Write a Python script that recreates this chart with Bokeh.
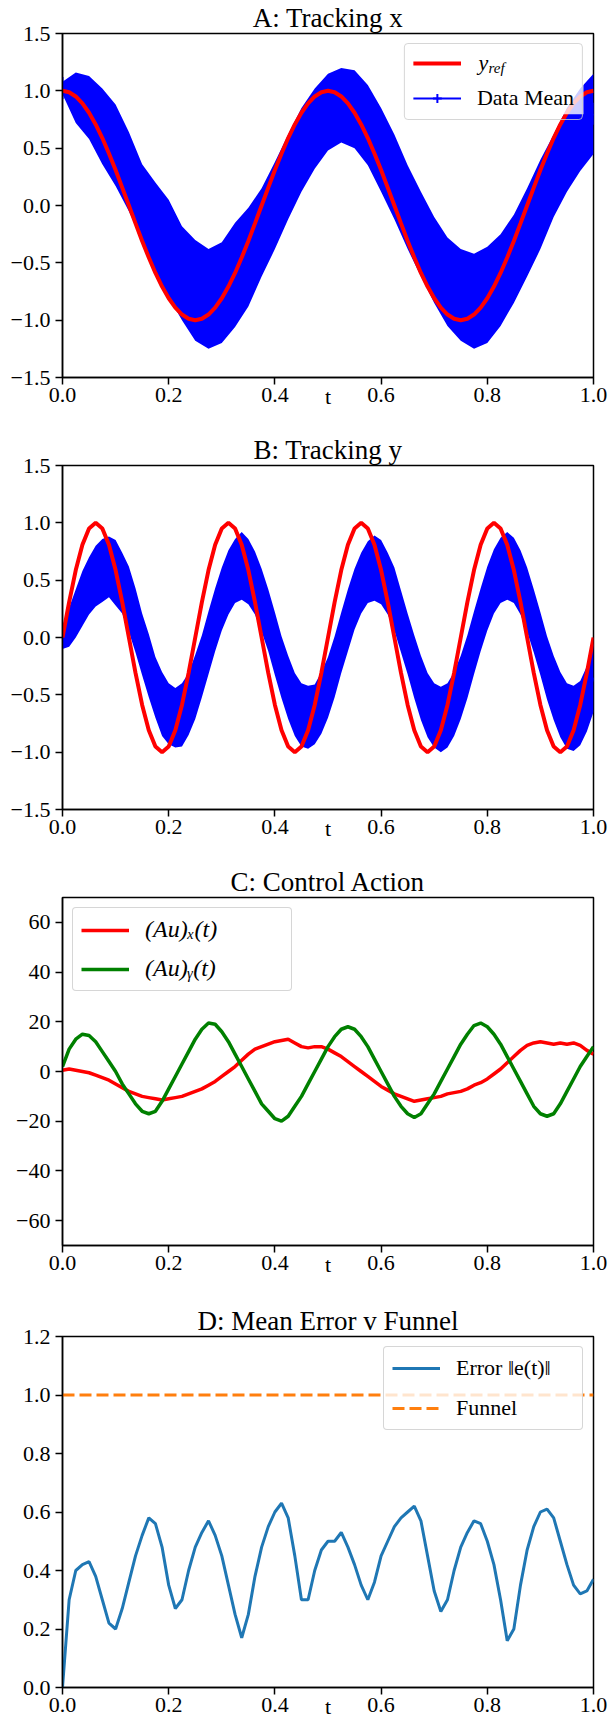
from bokeh.plotting import figure
from bokeh.layouts import column
from bokeh.models import Range1d, FixedTicker, Legend, LegendItem, Label, BoxAnnotation
from bokeh.embed import file_html
from bokeh.resources import INLINE

# ---------------- data ----------------
T41 = [0.0, 0.025, 0.05, 0.075, 0.1, 0.125, 0.15, 0.175, 0.2, 0.225, 0.25, 0.275, 0.3, 0.325,
       0.35, 0.375, 0.4, 0.425, 0.45, 0.475, 0.5, 0.525, 0.55, 0.575, 0.6, 0.625, 0.65, 0.675,
       0.7, 0.725, 0.75, 0.775, 0.8, 0.825, 0.85, 0.875, 0.9, 0.925, 0.95, 0.975, 1.0]
T81 = [0.0, 0.0125, 0.025, 0.0375, 0.05, 0.0625, 0.075, 0.0875, 0.1, 0.1125, 0.125, 0.1375,
       0.15, 0.1625, 0.175, 0.1875, 0.2, 0.2125, 0.225, 0.2375, 0.25, 0.2625, 0.275, 0.2875,
       0.3, 0.3125, 0.325, 0.3375, 0.35, 0.3625, 0.375, 0.3875, 0.4, 0.4125, 0.425, 0.4375,
       0.45, 0.4625, 0.475, 0.4875, 0.5, 0.5125, 0.525, 0.5375, 0.55, 0.5625, 0.575, 0.5875,
       0.6, 0.6125, 0.625, 0.6375, 0.65, 0.6625, 0.675, 0.6875, 0.7, 0.7125, 0.725, 0.7375,
       0.75, 0.7625, 0.775, 0.7875, 0.8, 0.8125, 0.825, 0.8375, 0.85, 0.8625, 0.875, 0.8875,
       0.9, 0.9125, 0.925, 0.9375, 0.95, 0.9625, 0.975, 0.9875, 1.0]

# Panel A: reference and data band (mean +- spread)
A_REF = [1.0, 0.988, 0.951, 0.891, 0.809, 0.707, 0.588, 0.454, 0.309, 0.156, 0.0, -0.156, -0.309,
         -0.454, -0.588, -0.707, -0.809, -0.891, -0.951, -0.988, -1.0, -0.988, -0.951, -0.891,
         -0.809, -0.707, -0.588, -0.454, -0.309, -0.156, 0.0, 0.156, 0.309, 0.454, 0.588, 0.707,
         0.809, 0.891, 0.951, 0.988, 1.0,
         0.988, 0.951, 0.891, 0.809, 0.707, 0.588, 0.454, 0.309, 0.156, 0.0, -0.156, -0.309,
         -0.454, -0.588, -0.707, -0.809, -0.891, -0.951, -0.988, -1.0, -0.988, -0.951, -0.891,
         -0.809, -0.707, -0.588, -0.454, -0.309, -0.156, 0.0, 0.156, 0.309, 0.454, 0.588, 0.707,
         0.809, 0.891, 0.951, 0.988, 1.0]
A_LO = [0.97, 0.72, 0.58, 0.36, 0.17, -0.05, -0.30, -0.58, -0.80, -1.00, -1.18, -1.25, -1.20,
        -1.06, -0.88, -0.62, -0.38, -0.12, 0.12, 0.32, 0.48, 0.55, 0.50, 0.35, 0.12, -0.12,
        -0.38, -0.62, -0.85, -1.05, -1.18, -1.25, -1.20, -1.05, -0.85, -0.62, -0.38, -0.10,
        0.12, 0.30, 0.45]
A_HI = [1.08, 1.16, 1.13, 1.02, 0.88, 0.64, 0.36, 0.20, 0.05, -0.18, -0.30, -0.38, -0.32,
        -0.15, -0.02, 0.15, 0.38, 0.62, 0.85, 1.02, 1.15, 1.20, 1.18, 1.05, 0.85, 0.62, 0.35,
        0.12, -0.10, -0.28, -0.38, -0.42, -0.36, -0.25, -0.08, 0.15, 0.40, 0.62, 0.85, 1.02, 1.15]

# Panel B
B_REF = [0.0, 0.309, 0.588, 0.809, 0.951, 1.0, 0.951, 0.809, 0.588, 0.309,
         0.0, -0.309, -0.588, -0.809, -0.951, -1.0, -0.951, -0.809, -0.588, -0.309,
         0.0, 0.309, 0.588, 0.809, 0.951, 1.0, 0.951, 0.809, 0.588, 0.309,
         0.0, -0.309, -0.588, -0.809, -0.951, -1.0, -0.951, -0.809, -0.588, -0.309,
         0.0, 0.309, 0.588, 0.809, 0.951, 1.0, 0.951, 0.809, 0.588, 0.309,
         0.0, -0.309, -0.588, -0.809, -0.951, -1.0, -0.951, -0.809, -0.588, -0.309,
         0.0, 0.309, 0.588, 0.809, 0.951, 1.0, 0.951, 0.809, 0.588, 0.309,
         0.0, -0.309, -0.588, -0.809, -0.951, -1.0, -0.951, -0.809, -0.588, -0.309,
         0.0]
B_LO = [-0.10, -0.08, 0.00, 0.10, 0.20, 0.27, 0.31, 0.35, 0.28, 0.21,
        0.05, -0.13, -0.33, -0.52, -0.70, -0.86, -0.93, -0.96, -0.95, -0.85,
        -0.71, -0.52, -0.32, -0.12, 0.06, 0.20, 0.30, 0.33, 0.29, 0.20,
        0.05, -0.12, -0.33, -0.53, -0.71, -0.86, -0.95, -0.97, -0.93, -0.84,
        -0.70, -0.52, -0.31, -0.12, 0.07, 0.21, 0.30, 0.32, 0.29, 0.20,
        0.06, -0.13, -0.32, -0.53, -0.72, -0.87, -0.96, -1.00, -0.96, -0.86,
        -0.71, -0.53, -0.32, -0.12, 0.06, 0.21, 0.30, 0.33, 0.30, 0.20,
        0.05, -0.13, -0.33, -0.54, -0.72, -0.87, -0.97, -0.99, -0.94, -0.82,
        -0.65]
B_HI = [0.10, 0.26, 0.42, 0.58, 0.70, 0.80, 0.86, 0.88, 0.85, 0.74,
        0.62, 0.43, 0.21, 0.03, -0.17, -0.30, -0.40, -0.44, -0.40, -0.31,
        -0.15, 0.02, 0.23, 0.43, 0.61, 0.76, 0.86, 0.92, 0.86, 0.75,
        0.60, 0.42, 0.22, 0.01, -0.16, -0.31, -0.40, -0.42, -0.41, -0.30,
        -0.17, 0.01, 0.22, 0.42, 0.60, 0.74, 0.84, 0.89, 0.85, 0.74,
        0.61, 0.41, 0.21, 0.02, -0.16, -0.31, -0.40, -0.43, -0.40, -0.30,
        -0.16, 0.02, 0.23, 0.43, 0.62, 0.77, 0.87, 0.92, 0.87, 0.76,
        0.61, 0.42, 0.22, 0.01, -0.16, -0.30, -0.40, -0.42, -0.38, -0.25,
        -0.05]

# Panel C
C_X = [0.5, 1, 0.5, 0, -0.5, -1.5, -2.5, -3.5, -5, -6.5,
       -8, -9, -10, -10.5, -11, -11.5, -11, -10.5, -10, -9,
       -8, -7, -5.5, -4, -2, 0, 2, 4.5, 7, 9,
       10, 11, 12, 12.5, 13, 11.5, 10, 9.5, 10, 10,
       9, 7.5, 6, 4, 2, 0, -2, -4, -6, -7.5,
       -9, -10, -11, -12, -11.5, -11, -10.5, -10, -9, -8.5,
       -8, -7, -5.5, -4.5, -3, -1, 1, 3.5, 6, 8.5,
       10.5, 11.5, 12, 11.5, 11, 11.5, 11, 11.5, 10.5, 8.5,
       7]
C_Y = [2, 9, 13, 15, 14.5, 12, 8, 4, 0, -5,
       -9, -13, -16, -17, -16, -12, -7, -2, 3, 8,
       13, 17, 19.5, 19, 16, 12, 7, 2, -3, -8,
       -13, -16, -19, -20, -18, -14, -10, -5, 0, 5,
       10, 14, 17, 18, 17, 14, 10, 5, 0, -5,
       -10, -14, -17, -18.5, -17, -13, -9, -4, 1, 6,
       11, 15, 18.5, 19.5, 18, 15, 11, 6, 1, -4,
       -9, -14, -17, -18, -17, -13, -8, -3, 2, 6,
       10]

# Panel D
D_ERR = [0.0, 0.3, 0.4, 0.42, 0.43, 0.38, 0.3, 0.22, 0.2, 0.27,
         0.36, 0.45, 0.52, 0.58, 0.56, 0.48, 0.35, 0.27, 0.3, 0.4,
         0.48, 0.53, 0.57, 0.52, 0.45, 0.35, 0.25, 0.17, 0.25, 0.38,
         0.48, 0.55, 0.6, 0.63, 0.58, 0.45, 0.3, 0.3, 0.4, 0.47,
         0.5, 0.5, 0.53, 0.48, 0.42, 0.35, 0.3, 0.36, 0.45, 0.5,
         0.55, 0.58, 0.6, 0.62, 0.57, 0.45, 0.33, 0.26, 0.3, 0.4,
         0.48, 0.53, 0.57, 0.56, 0.5, 0.42, 0.3, 0.16, 0.2, 0.35,
         0.47, 0.55, 0.6, 0.61, 0.58, 0.5, 0.42, 0.35, 0.32, 0.33,
         0.37]
D_FUNNEL_T = [0.0, 1.0]
D_FUNNEL = [1.0, 1.0]

X_TICKS = [0.0, 0.2, 0.4, 0.6, 0.8, 1.0]
X_LABELS = ["0.0", "0.2", "0.4", "0.6", "0.8", "1.0"]
AB_TICKS = [-1.5, -1.0, -0.5, 0.0, 0.5, 1.0, 1.5]
AB_LABELS = ["\u22121.5", "\u22121.0", "\u22120.5", "0.0", "0.5", "1.0", "1.5"]
C_TICKS = [-60, -40, -20, 0, 20, 40, 60]
C_LABELS = ["\u221260", "\u221240", "\u221220", "0", "20", "40", "60"]
D_TICKS = [0.0, 0.2, 0.4, 0.6, 0.8, 1.0, 1.2]
D_LABELS = ["0.0", "0.2", "0.4", "0.6", "0.8", "1.0", "1.2"]

TITLES = ["A: Tracking x", "B: Tracking y", "C: Control Action", "D: Mean Error v Funnel"]

# ---------------- style / layout ----------------
FONT = "Liberation Serif"
FIG_W = 610
RIGHT = 17
TICK_FS = "22px"


def make_panel(h, left, top, bottom, yr, yticks, ylabels, title):
    p = figure(width=FIG_W, height=h, x_range=Range1d(0, 1), y_range=Range1d(*yr),
               output_backend="svg", toolbar_location=None, title=title,
               min_border_left=left, min_border_right=RIGHT,
               min_border_top=top, min_border_bottom=bottom)
    p.title.text_font = FONT
    p.title.text_font_size = "27px"
    p.title.text_font_style = "normal"
    p.title.text_color = "black"
    p.title.align = "center"
    p.title.standoff = 1
    p.xgrid.visible = False
    p.ygrid.visible = False
    p.outline_line_color = "black"
    p.outline_line_width = 1.5
    p.outline_line_alpha = 1.0
    p.border_fill_color = "white"
    for ax, ticks, labels in ((p.xaxis[0], X_TICKS, X_LABELS), (p.yaxis[0], yticks, ylabels)):
        ax.ticker = FixedTicker(ticks=ticks)
        ax.major_label_overrides = dict(zip(ticks, labels))
        ax.axis_line_color = "black"
        ax.axis_line_width = 1.5
        ax.major_tick_line_color = "black"
        ax.major_tick_line_width = 1.5
        ax.major_tick_in = 0
        ax.major_tick_out = 7
        ax.minor_tick_line_color = None
        ax.major_label_text_font = FONT
        ax.major_label_text_font_size = TICK_FS
        ax.major_label_text_color = "black"
    xa = p.xaxis[0]
    xa.major_label_standoff = 3
    xa.axis_label = "t"
    xa.axis_label_text_font = FONT
    xa.axis_label_text_font_size = TICK_FS
    xa.axis_label_text_font_style = "normal"
    xa.axis_label_text_color = "black"
    xa.axis_label_standoff = -21
    p.yaxis[0].major_label_standoff = 5
    return p, h - top - bottom


def make_legend(items, location, italic=False, bg_alpha=0.8, font_px=22, label_w=20,
                spacing=11):
    lg = Legend(items=items, location=location, margin=10, padding=8, spacing=spacing,
                glyph_width=48, glyph_height=22, label_height=font_px, label_standoff=16,
                label_width=label_w,
                label_text_font=FONT, label_text_font_size="%dpx" % font_px,
                label_text_color="black",
                label_text_font_style="italic" if italic else "normal",
                border_line_color="#cccccc", border_line_alpha=0.8, border_line_width=1,
                background_fill_color="white", background_fill_alpha=bg_alpha)
    if "border_radius" in Legend.properties():
        lg.border_radius = 4
    return lg


# ---- Panel A
A_LEFT, A_TOP = 62, 32
pA, fhA = make_panel(430, A_LEFT, A_TOP, 53, (-1.5, 1.5), AB_TICKS, AB_LABELS, TITLES[0])
A_MEAN = [(lo + hi) / 2 for lo, hi in zip(A_LO, A_HI)]
crossA = pA.scatter(T41, A_MEAN, marker="cross", size=22, line_color="blue", line_width=2)
pA.varea(x=T41, y1=A_LO, y2=A_HI, fill_color="blue", fill_alpha=1.0)
meanA = pA.line(T41, A_MEAN, line_color="blue", line_width=2)
refA = pA.line(T81, A_REF, line_color="red", line_width=4)

frA_w = FIG_W - A_LEFT - RIGHT
LEG_W, LEG_H = 16 + 48 + 16 + 97, 8 + 22 + 11 + 22 + 8
box_r = A_LEFT + frA_w - 10
box_l = box_r - LEG_W
box_t = A_TOP + 10
txt_x = box_l + 8 + 48 + 16
row1 = box_t + 8 + 11


def ax_(px):
    return (px - A_LEFT) / frA_w


def ay_(py):
    return 1.5 - (py - A_TOP) * 3.0 / fhA


# semi-transparent legend backdrop (drawn over the data, under the legend texts)
pA.add_layout(BoxAnnotation(left=ax_(box_l), right=ax_(box_r), top=ay_(box_t),
                            bottom=ay_(box_t + LEG_H), fill_color="white", fill_alpha=0.8,
                            line_color=None, level="glyph"))
pA.add_layout(make_legend([LegendItem(label=" ", renderers=[refA]),
                           LegendItem(label="Data Mean", renderers=[meanA, crossA])],
                          "top_right", bg_alpha=0.0))
pA.add_layout(Label(x=ax_(txt_x), y=ay_(row1), text="y", text_font=FONT, text_font_size="22px",
                    text_font_style="italic", text_baseline="middle", text_color="black",
                    level="overlay"))
pA.add_layout(Label(x=ax_(txt_x + 10), y=ay_(row1 + 6), text="ref", text_font=FONT,
                    text_font_size="15px", text_font_style="italic", text_baseline="middle",
                    text_color="black", level="overlay"))

# ---- Panel B
pB, fhB = make_panel(432, 62, 35, 53, (-1.5, 1.5), AB_TICKS, AB_LABELS, TITLES[1])
pB.varea(x=T81, y1=B_LO, y2=B_HI, fill_color="blue", fill_alpha=1.0)
pB.line(T81, [(lo + hi) / 2 for lo, hi in zip(B_LO, B_HI)], line_color="blue", line_width=2)
pB.line(T81, B_REF, line_color="red", line_width=4)

# ---- Panel C
pC, fhC = make_panel(428, 57, 35, 45, (-70, 70), C_TICKS, C_LABELS, TITLES[2])
cx = pC.line(T81, C_X, line_color="red", line_width=3.5)
cy = pC.line(T81, C_Y, line_color="green", line_width=3.5)
pC.add_layout(make_legend([LegendItem(label="(Au)\u2093(t)", renderers=[cx]),
                           LegendItem(label="(Au)\u1d67(t)", renderers=[cy])],
                          "top_left", italic=True, font_px=24, label_w=138, spacing=12))

# ---- Panel D
pD, fhD = make_panel(433, 47, 46, 36, (0, 1.2), D_TICKS, D_LABELS, TITLES[3])
de = pD.line(T81, D_ERR, line_color="#1f77b4", line_width=3)
df = pD.line(D_FUNNEL_T, D_FUNNEL, line_color="#ff7f0e", line_width=3, line_dash="12 5")
pD.add_layout(make_legend([LegendItem(label="Error \u2016e(t)\u2016", renderers=[de]),
                           LegendItem(label="Funnel", renderers=[df])],
                          "top_right", label_w=118, spacing=14))

layout = column(pA, pB, pC, pD, spacing=0)
open("out.html", "w").write(file_html(layout, INLINE))
